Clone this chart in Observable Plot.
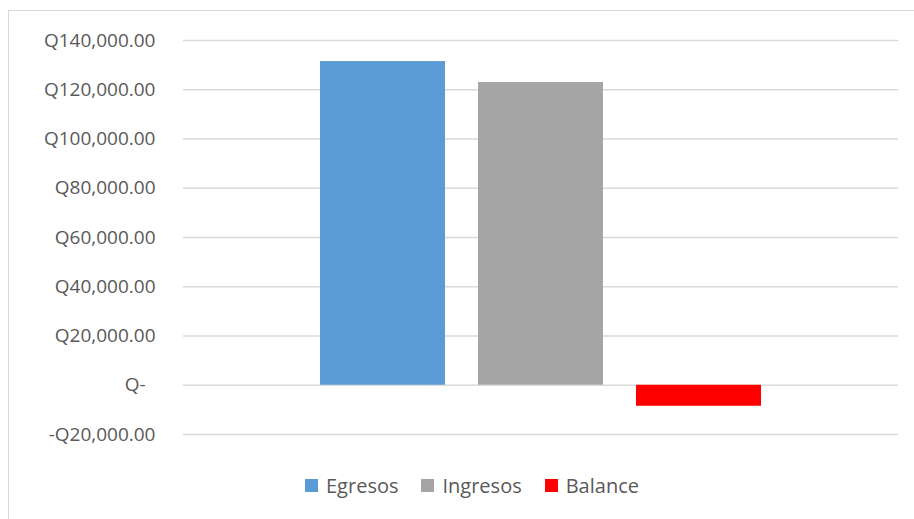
<!DOCTYPE html>
<html>
<head>
<meta charset="utf-8">
<script src="https://cdn.jsdelivr.net/npm/d3@7"></script>
<script src="https://cdn.jsdelivr.net/npm/@observablehq/plot@0.6"></script>
<style>
  html, body { margin: 0; padding: 0; background: #fff; overflow: hidden; }
  body { width: 914px; height: 519px; position: relative; font-family: "Open Sans", "Liberation Sans", sans-serif; }
  #frame { position: absolute; left: 8px; top: 10px; width: 1000px; height: 600px; border: 1.5px solid #d9d9d9; box-sizing: border-box; }
  #chart { position: absolute; left: 0; top: 0; }
  #legend { position: absolute; left: 0; top: 472px; width: 944px; display: flex; justify-content: center; align-items: center; font-size: 20px; color: #595959; }
  .item { display: flex; align-items: center; margin: 0 11.5px; }
  .swatch { width: 13px; height: 13px; margin-right: 8px; }
</style>
</head>
<body>
<div id="frame"></div>
<div id="chart"></div>
<div id="legend"></div>
<script>
// Series shown as a single cluster of columns
const series = ["Egresos", "Ingresos", "Balance"];
const amounts = [131450, 122920, -8530];
const colors = ["#5b9bd5", "#a5a5a5", "#ff0000"];
const yTicks = [-20000, 0, 20000, 40000, 60000, 80000, 100000, 120000, 140000];

const rows = series.map((s, i) => ({series: s, amount: amounts[i]}));

const money = d3.format(",.2f");
const quetzal = d => d === 0 ? "Q-\u00a0\u00a0" : (d < 0 ? "-" : "") + "Q" + money(Math.abs(d));

const chart = Plot.plot({
  width: 914,
  height: 460,
  marginTop: 40,
  marginBottom: 26,
  marginLeft: 183,
  marginRight: 16,
  style: {fontFamily: "'Open Sans', sans-serif", fontSize: "19px", color: "#595959", background: "transparent"},
  x: {domain: series, paddingInner: 0.209, paddingOuter: 0.861, axis: null},
  y: {domain: [-20000, 140000], axis: null},
  color: {domain: series, range: colors},
  marks: [
    Plot.ruleY(yTicks, {stroke: "#d9d9d9", strokeWidth: 1.5}),
    Plot.axisY(yTicks, {tickSize: 0, tickPadding: 28, tickFormat: quetzal, label: null, fill: "#595959", fontSize: 19}),
    Plot.barY(rows, {x: "series", y: "amount", fill: "series"})
  ]
});
document.getElementById("chart").appendChild(chart);

// Legend row under the plot
const legend = document.getElementById("legend");
series.forEach((s, i) => {
  const item = document.createElement("div");
  item.className = "item";
  const sw = document.createElement("span");
  sw.className = "swatch";
  sw.style.background = colors[i];
  const label = document.createElement("span");
  label.textContent = s;
  item.appendChild(sw);
  item.appendChild(label);
  legend.appendChild(item);
});
</script>
</body>
</html>
